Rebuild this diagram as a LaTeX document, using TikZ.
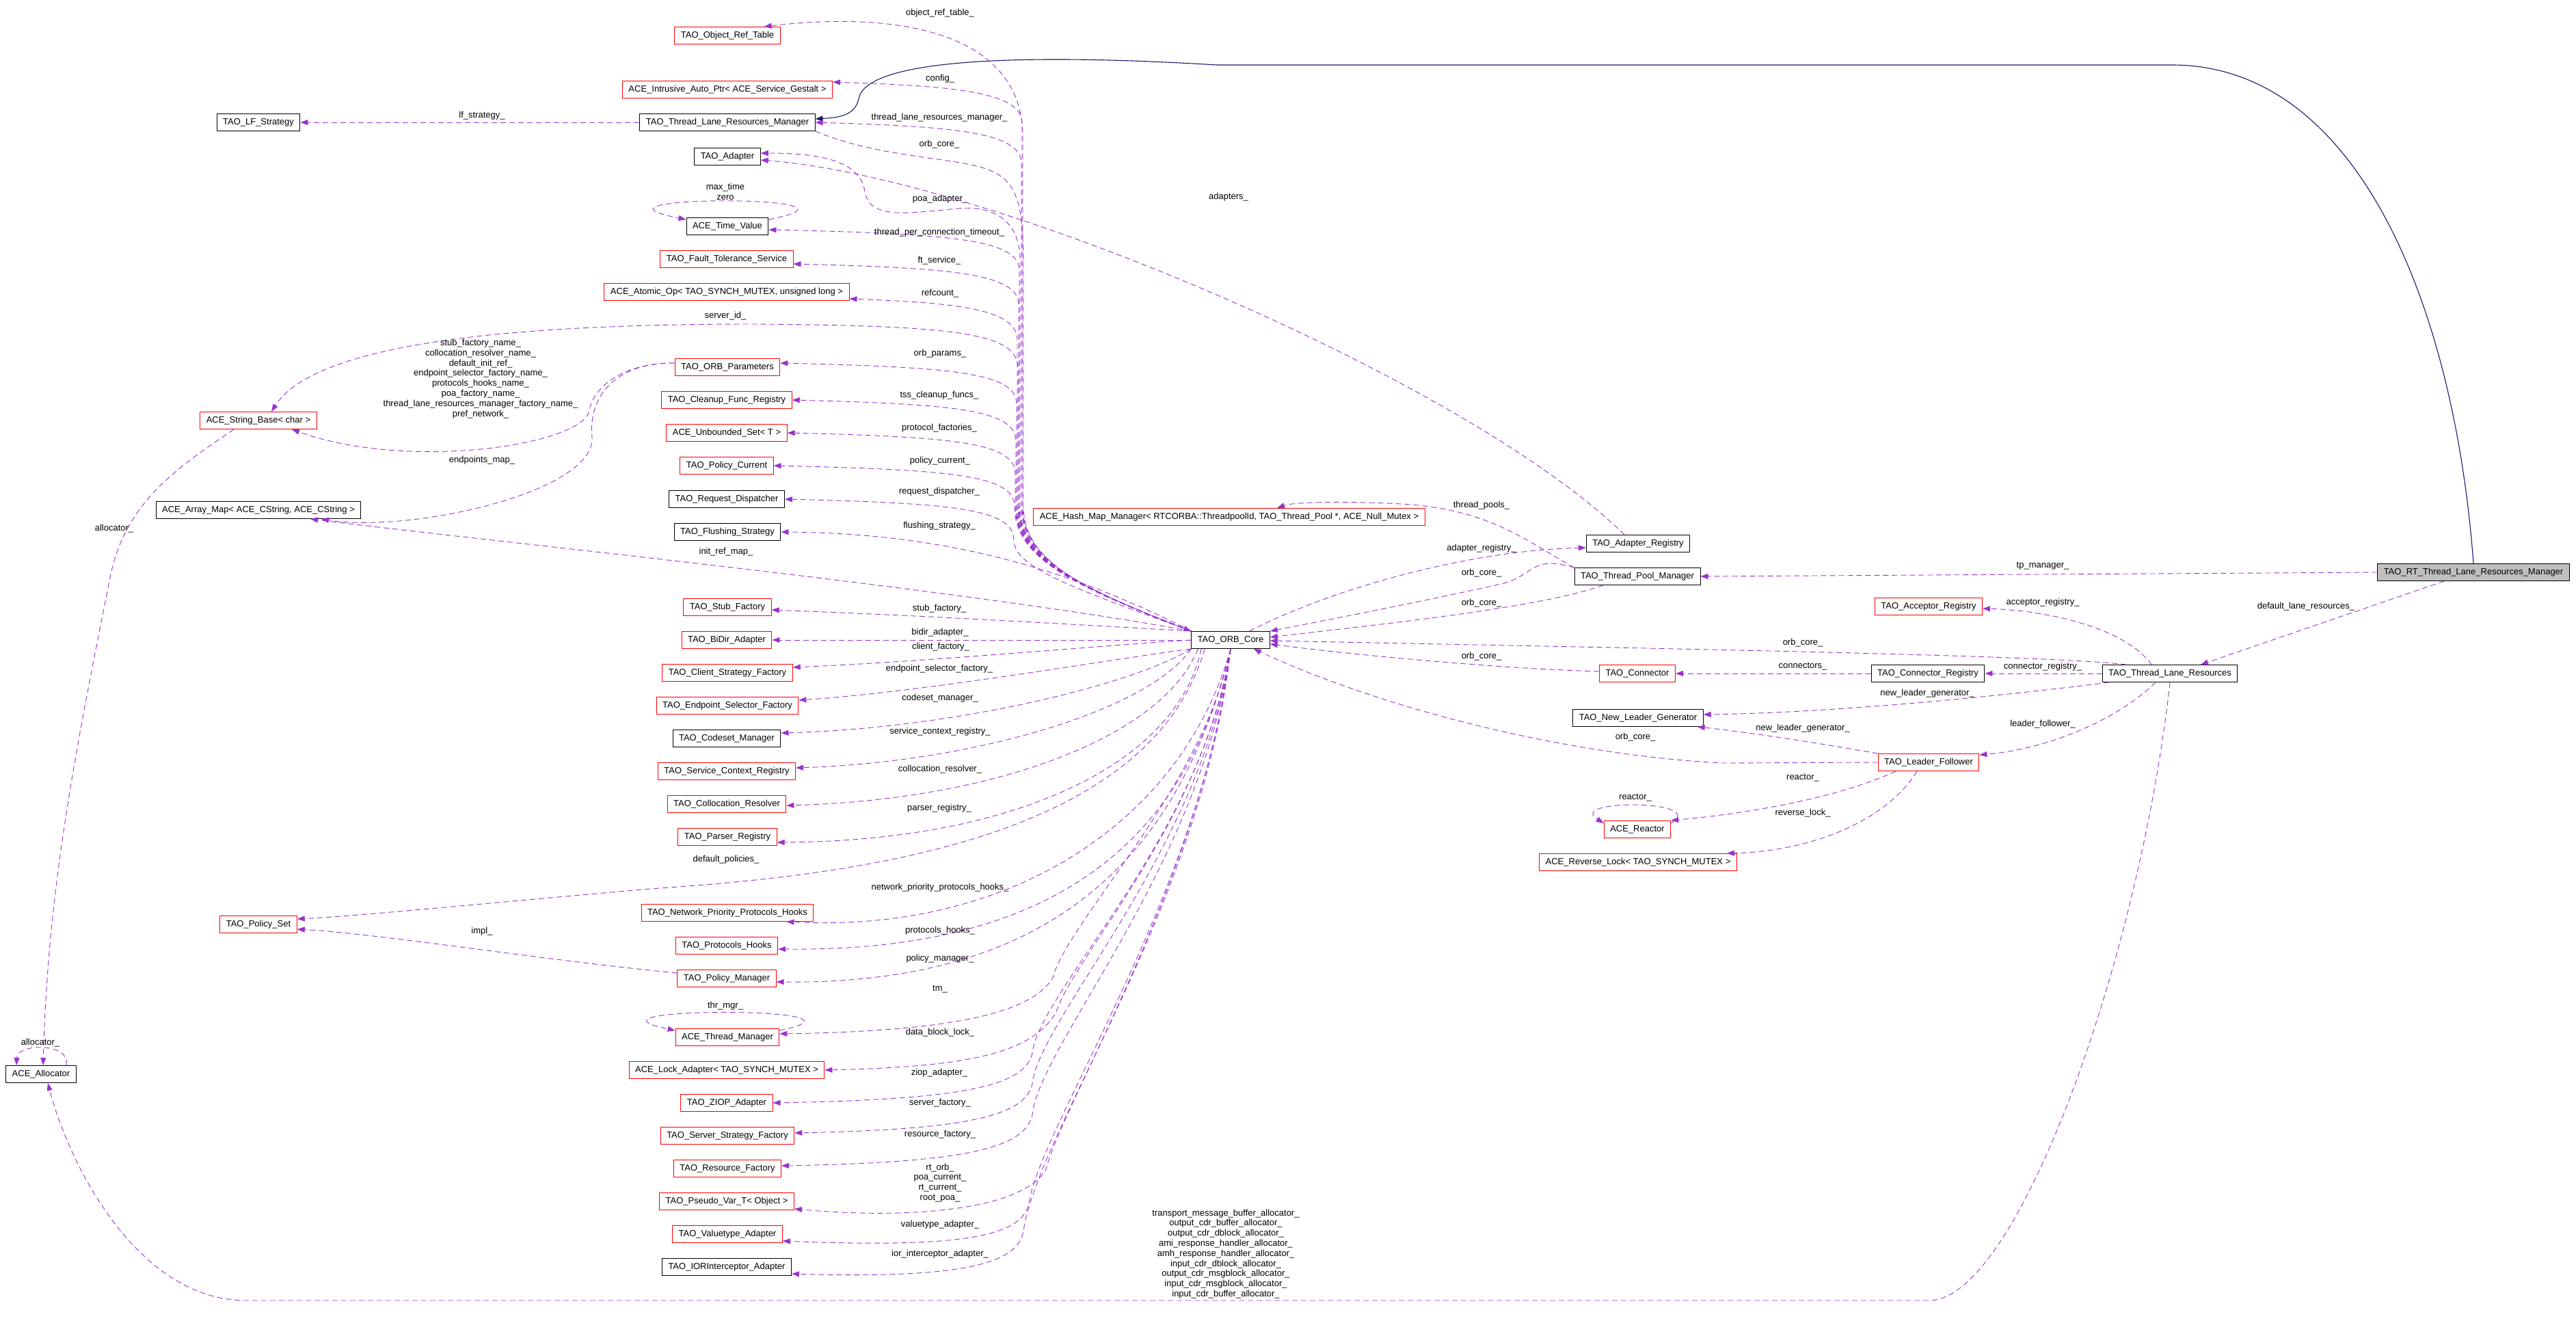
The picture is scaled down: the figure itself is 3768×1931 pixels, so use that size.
\documentclass[tikz,border=0pt]{standalone}
\usepackage{fontspec}
\setmainfont{Liberation Sans}
\usetikzlibrary{arrows.meta}
\definecolor{edgeC}{HTML}{9A32CD}
\definecolor{inhC}{HTML}{191970}
\definecolor{boxR}{HTML}{FF0000}
\definecolor{curF}{HTML}{BFBFBF}
\newcommand\dxfont{\fontsize{13}{14.8}\selectfont}
\tikzset{
  cls/.style={draw, line width=1pt, minimum height=25pt, inner xsep=9pt, inner ysep=2pt, font=\dxfont},
  redcls/.style={cls, draw=boxR},
  blkcls/.style={cls, draw=black},
  curcls/.style={cls, draw=black, fill=curF},
  dep/.style={-{Triangle[length=11pt,width=8pt]}, draw=edgeC, line width=0.9pt, dash pattern=on 8pt off 5pt},
  inh/.style={-{Triangle[length=11pt,width=8pt]}, draw=inhC, line width=1.1pt},
  lbl/.style={font=\dxfont, inner sep=0pt, align=center},
}

\begin{document}
\begin{tikzpicture}[x=1pt, y=-1pt]
\useasboundingbox (0,0) rectangle (3768,1931);
\node[blkcls] (lfs) at (378,179) {TAO\_LF\_Strategy};
\node[redcls] (strbase) at (378,615) {ACE\_String\_Base< char >};
\node[blkcls] (arraymap) at (378,746) {ACE\_Array\_Map< ACE\_CString, ACE\_CString >};
\node[redcls] (policyset) at (378,1352) {TAO\_Policy\_Set};
\node[blkcls] (allocator) at (60,1571) {ACE\_Allocator};
\node[redcls] (objref) at (1064,52) {TAO\_Object\_Ref\_Table};
\node[redcls] (gestalt) at (1064,131) {ACE\_Intrusive\_Auto\_Ptr< ACE\_Service\_Gestalt >};
\node[blkcls] (tlrm) at (1064,179) {TAO\_Thread\_Lane\_Resources\_Manager};
\node[blkcls] (adapter) at (1064,229) {TAO\_Adapter};
\node[blkcls] (timeval) at (1064,331) {ACE\_Time\_Value};
\node[redcls] (ftserv) at (1063,379) {TAO\_Fault\_Tolerance\_Service};
\node[redcls] (atomic) at (1063,427) {ACE\_Atomic\_Op< TAO\_SYNCH\_MUTEX, unsigned long >};
\node[redcls] (orbparams) at (1064,537) {TAO\_ORB\_Parameters};
\node[redcls] (cleanup) at (1063,585) {TAO\_Cleanup\_Func\_Registry};
\node[redcls] (unbset) at (1063,633) {ACE\_Unbounded\_Set< T >};
\node[redcls] (polcur) at (1063,681) {TAO\_Policy\_Current};
\node[blkcls] (reqdisp) at (1063,730) {TAO\_Request\_Dispatcher};
\node[blkcls] (flush) at (1064,778) {TAO\_Flushing\_Strategy};
\node[redcls] (stubf) at (1064,888) {TAO\_Stub\_Factory};
\node[redcls] (bidir) at (1063,936) {TAO\_BiDir\_Adapter};
\node[redcls] (clientf) at (1064,984) {TAO\_Client\_Strategy\_Factory};
\node[redcls] (epsel) at (1064,1032) {TAO\_Endpoint\_Selector\_Factory};
\node[blkcls] (codeset) at (1063,1080) {TAO\_Codeset\_Manager};
\node[redcls] (scr) at (1063,1128) {TAO\_Service\_Context\_Registry};
\node[redcls] (colloc) at (1063,1176) {TAO\_Collocation\_Resolver};
\node[redcls] (parser) at (1064,1224) {TAO\_Parser\_Registry};
\node[redcls] (nphooks) at (1064,1335) {TAO\_Network\_Priority\_Protocols\_Hooks};
\node[redcls] (phooks) at (1063,1383) {TAO\_Protocols\_Hooks};
\node[redcls] (polmgr) at (1063,1431) {TAO\_Policy\_Manager};
\node[redcls] (thrmgr) at (1064,1517) {ACE\_Thread\_Manager};
\node[redcls] (lockad) at (1063,1565) {ACE\_Lock\_Adapter< TAO\_SYNCH\_MUTEX >};
\node[redcls] (ziop) at (1063,1613) {TAO\_ZIOP\_Adapter};
\node[redcls] (serverf) at (1064,1661) {TAO\_Server\_Strategy\_Factory};
\node[redcls] (resf) at (1064,1709) {TAO\_Resource\_Factory};
\node[redcls] (pseudo) at (1063,1757) {TAO\_Pseudo\_Var\_T< Object >};
\node[redcls] (valuet) at (1064,1805) {TAO\_Valuetype\_Adapter};
\node[blkcls] (iorint) at (1063,1853) {TAO\_IORInterceptor\_Adapter};
\node[blkcls] (core) at (1800,936) {TAO\_ORB\_Core};
\node[redcls] (hashmap) at (1798,756) {ACE\_Hash\_Map\_Manager< RTCORBA::ThreadpoolId, TAO\_Thread\_Pool *, ACE\_Null\_Mutex >};
\node[blkcls] (adreg) at (2396,795) {TAO\_Adapter\_Registry};
\node[blkcls] (tpm) at (2395,843) {TAO\_Thread\_Pool\_Manager};
\node[redcls] (connector) at (2395,985) {TAO\_Connector};
\node[blkcls] (nlg) at (2396,1050) {TAO\_New\_Leader\_Generator};
\node[redcls] (reactor) at (2395,1213) {ACE\_Reactor};
\node[redcls] (revlock) at (2396,1261) {ACE\_Reverse\_Lock< TAO\_SYNCH\_MUTEX >};
\node[redcls] (accreg) at (2821,887) {TAO\_Acceptor\_Registry};
\node[blkcls] (connreg) at (2820,985) {TAO\_Connector\_Registry};
\node[redcls] (lf) at (2821,1115) {TAO\_Leader\_Follower};
\node[blkcls] (tlr) at (3174,985) {TAO\_Thread\_Lane\_Resources};
\node[curcls] (rt) at (3618,837) {TAO\_RT\_Thread\_Lane\_Resources\_Manager};

\draw[inh] (rt.north) .. controls (3590,450) and (3450,95) .. (3177,95) -- (1780,95)
  .. controls (1500,78) and (1265,85) .. (1256,145) .. controls (1250,170) and (1225,172) .. ([yshift=5pt]tlrm.east);

\draw[dep] (core.north west) .. controls (1580,860) and (1496,820) .. (1496,740) -- (1496,200)
  .. controls (1496,50) and (1320,15) .. ([xshift=-24pt]objref.north east) node[lbl] at (1375,19) {object\_ref\_table\_};
\draw[dep] (core.north west) .. controls (1580,860) and (1495,820) .. (1495,740) -- (1495,180)
  .. controls (1495,135) and (1400,126) .. ([yshift=11pt]gestalt.east) node[lbl] at (1375,115) {config\_};
\draw[dep] (core.north west) .. controls (1580,860) and (1494,820) .. (1494,740) -- (1494,239)
  .. controls (1494,194) and (1400,185) .. (tlrm.east) node[lbl] at (1374,172) {thread\_lane\_resources\_manager\_};
\draw[dep] (core.north west) .. controls (1580,860) and (1492,820) .. (1492,740) -- (1492,380)
  .. controls (1492,320) and (1450,300) .. (1400,305) .. controls (1320,313) and (1272,320) .. (1265,280)
  .. controls (1258,235) and (1200,224) .. ([yshift=5pt]adapter.east) node[lbl] at (1375,291) {poa\_adapter\_};
\draw[dep] (core.north west) .. controls (1580,860) and (1491,820) .. (1491,740) -- (1491,396)
  .. controls (1491,351) and (1400,342) .. ([yshift=-5pt]timeval.east) node[lbl] at (1374,340) {thread\_per\_connection\_timeout\_};
\draw[dep] (core.north west) .. controls (1580,860) and (1490,820) .. (1490,740) -- (1490,446)
  .. controls (1490,401) and (1400,392) .. ([yshift=-7pt]ftserv.east) node[lbl] at (1374,381) {ft\_service\_};
\draw[dep] (core.north west) .. controls (1580,860) and (1488,820) .. (1488,740) -- (1488,497)
  .. controls (1488,452) and (1400,443) .. ([yshift=-10pt]atomic.east) node[lbl] at (1375,429) {refcount\_};
\draw[dep] (core.north west) .. controls (1580,860) and (1489,820) .. (1489,740) -- (1489,540)
  .. controls (1489,490) and (1420,476) .. (1100,474) .. controls (650,474) and (450,520) .. ([xshift=19pt]strbase.north)
  node[lbl] at (1061,462) {server\_id\_};
\draw[dep] (core.north west) .. controls (1580,860) and (1487,820) .. (1487,740) -- (1487,591)
  .. controls (1487,546) and (1400,537) .. ([yshift=6pt]orbparams.east) node[lbl] at (1375,517) {orb\_params\_};
\draw[dep] (core.north west) .. controls (1580,860) and (1486,820) .. (1486,740) -- (1486,645)
  .. controls (1486,600) and (1400,591) .. (cleanup.east) node[lbl] at (1374,578) {tss\_cleanup\_funcs\_};
\draw[dep] (core.north west) .. controls (1580,860) and (1485,820) .. (1485,740) -- (1485,693)
  .. controls (1485,648) and (1400,639) .. (unbset.east) node[lbl] at (1374,626) {protocol\_factories\_};
\draw[dep] (core.north west) .. controls (1580,860) and (1484,820) .. (1484,741)
  .. controls (1484,696) and (1400,687) .. (polcur.east) node[lbl] at (1375,674) {policy\_current\_};
\draw[dep] (core.north west) .. controls (1570,860) and (1483,830) .. (1483,790)
  .. controls (1483,745) and (1400,736) .. (reqdisp.east) node[lbl] at (1374,719) {request\_dispatcher\_};
\draw[dep] (core.north west) .. controls (1560,830) and (1380,780) .. (flush.east) node[lbl] at (1374,769) {flushing\_strategy\_};
\draw[dep] (core.north west) .. controls (1400,860) and (700,790) .. ([xshift=76pt]arraymap.south) node[lbl] at (1062,807) {init\_ref\_map\_};
\draw[dep] (core.north west) .. controls (1600,915) and (1350,900) .. ([yshift=-4pt]stubf.east) node[lbl] at (1374,890) {stub\_factory\_};
\draw[dep] (core.west) -- (bidir.east) node[lbl] at (1375,925) {bidir\_adapter\_};
\draw[dep] (core.west) .. controls (1600,945) and (1350,968) .. ([yshift=8pt]clientf.east) node[lbl] at (1376,946) {client\_factory\_};
\draw[dep] (core.south west) .. controls (1620,965) and (1350,1012) .. ([yshift=8pt]epsel.east) node[lbl] at (1374,978) {endpoint\_selector\_factory\_};
\draw[dep] (core.south west) .. controls (1660,1000) and (1400,1065) .. ([yshift=8pt]codeset.east) node[lbl] at (1375,1021) {codeset\_manager\_};
\draw[dep] (core.south west) .. controls (1680,1040) and (1420,1115) .. ([yshift=5pt]scr.east) node[lbl] at (1375,1070) {service\_context\_registry\_};
\draw[dep] ([xshift=10pt]core.south west) .. controls (1700,1080) and (1450,1170) .. ([yshift=-2pt]colloc.east) node[lbl] at (1375,1125) {collocation\_resolver\_};
\draw[dep] ([xshift=15pt]core.south west) .. controls (1720,1120) and (1480,1230) .. ([yshift=-8pt]parser.east) node[lbl] at (1374,1182) {parser\_registry\_};
\draw[dep] ([xshift=20pt]core.south west) .. controls (1680,1230) and (1250,1280) .. (950,1300)
  .. controls (700,1322) and (520,1340) .. ([yshift=8pt]policyset.east) node[lbl] at (1062,1257) {default\_policies\_};
\draw[dep] (core.south) .. controls (1730,1200) and (1480,1365) .. ([xshift=-40pt]nphooks.south east) node[lbl] at (1375,1298) {network\_priority\_protocols\_hooks\_};
\draw[dep] (core.south) .. controls (1730,1250) and (1520,1392) .. ([yshift=-5pt]phooks.east) node[lbl] at (1375,1361) {protocols\_hooks\_};
\draw[dep] (core.south) .. controls (1720,1280) and (1510,1440) .. ([yshift=-5pt]polmgr.east) node[lbl] at (1375,1402) {policy\_manager\_};
\draw[dep] (core.south) .. controls (1760,1150) and (1560,1350) .. (1540,1430)
  .. controls (1510,1480) and (1400,1508) .. ([yshift=5pt]thrmgr.east) node[lbl] at (1375,1447) {tm\_};
\draw[dep] (core.south) .. controls (1760,1200) and (1570,1400) .. (1545,1480)
  .. controls (1510,1540) and (1420,1560) .. (lockad.east) node[lbl] at (1375,1510) {data\_block\_lock\_};
\draw[dep] (core.south) .. controls (1760,1220) and (1520,1450) .. (1510,1540)
  .. controls (1500,1590) and (1400,1608) .. (ziop.east) node[lbl] at (1374,1569) {ziop\_adapter\_};
\draw[dep] (core.south) .. controls (1760,1240) and (1520,1490) .. (1510,1585)
  .. controls (1500,1635) and (1400,1652) .. ([yshift=4pt]serverf.east) node[lbl] at (1375,1613) {server\_factory\_};
\draw[dep] (core.south) .. controls (1760,1260) and (1520,1530) .. (1510,1630)
  .. controls (1500,1682) and (1400,1700) .. ([yshift=4pt]resf.east) node[lbl] at (1375,1659) {resource\_factory\_};
\draw[dep] (core.south) .. controls (1760,1280) and (1560,1600) .. (1530,1710)
  .. controls (1500,1765) and (1350,1785) .. ([yshift=2pt]pseudo.south east)
  node[lbl] at (1375,1730) {rt\_orb\_\\poa\_current\_\\rt\_current\_\\root\_poa\_};
\draw[dep] (core.south) .. controls (1760,1300) and (1520,1650) .. (1505,1760)
  .. controls (1495,1810) and (1400,1825) .. ([yshift=-10pt]valuet.east) node[lbl] at (1375,1791) {valuetype\_adapter\_};
\draw[dep] (core.south) .. controls (1760,1320) and (1520,1650) .. (1497,1800)
  .. controls (1490,1850) and (1400,1870) .. ([yshift=-10pt]iorint.east) node[lbl] at (1375,1834) {ior\_interceptor\_adapter\_};

\draw[dep] (tlrm.south east) .. controls (1290,232) and (1400,230) .. (1445,248)
  .. controls (1490,265) and (1497,300) .. (1497,400) -- (1497,740) .. controls (1497,820) and (1580,860) .. (core.north west)
  node[lbl] at (1374,211) {orb\_core\_};
\draw[dep] (tlrm.west) -- (lfs.east) node[lbl] at (705,169) {lf\_strategy\_};
\draw[dep] ([xshift=-20pt]adreg.north) .. controls (2150,560) and (1450,260) .. ([yshift=-5pt]adapter.east) node[lbl] at (1797,288) {adapters\_};
\draw[dep] ([yshift=-3pt]timeval.north east) .. controls (1310,285) and (820,285) .. ([yshift=-3pt]timeval.north west)
  node[lbl] at (1061,280) {max\_time\\zero};
\draw[dep] ([yshift=-3pt]thrmgr.north east) .. controls (1310,1472) and (820,1472) .. ([yshift=-3pt]thrmgr.north west)
  node[lbl] at (1061,1471) {thr\_mgr\_};
\draw[dep] ([yshift=6pt]orbparams.west) .. controls (920,530) and (870,560) .. (862,600)
  .. controls (855,650) and (600,690) .. ([xshift=49pt]strbase.south)
  node[lbl] at (703,554) {stub\_factory\_name\_\\collocation\_resolver\_name\_\\default\_init\_ref\_\\endpoint\_selector\_factory\_name\_\\protocols\_hooks\_name\_\\poa\_factory\_name\_\\thread\_lane\_resources\_manager\_factory\_name\_\\pref\_network\_};
\draw[dep] ([yshift=6pt]orbparams.west) .. controls (900,530) and (860,580) .. (866,640)
  .. controls (870,720) and (600,780) .. ([xshift=92pt]arraymap.south) node[lbl] at (705,673) {endpoints\_map\_};
\draw[dep] ([yshift=8pt]polmgr.west) .. controls (800,1405) and (550,1365) .. ([yshift=-7pt]policyset.east) node[lbl] at (705,1362) {impl\_};
\draw[dep] ([xshift=-36pt]strbase.south) .. controls (250,690) and (180,740) .. (160,850)
  .. controls (110,1100) and (70,1300) .. ([xshift=3pt]allocator.north) node[lbl] at (167,773) {allocator\_};
\draw[dep] ([xshift=-15pt]allocator.north east) .. controls (105,1525) and (25,1525) .. ([xshift=16pt]allocator.north west)
  node[lbl] at (59,1525) {allocator\_};
\draw[dep] (tlr.south) .. controls (3130,1400) and (2950,1902) .. (2822,1902) -- (360,1902)
  .. controls (200,1902) and (100,1700) .. ([xshift=10pt]allocator.south)
  node[lbl] at (1793,1834) {transport\_message\_buffer\_allocator\_\\output\_cdr\_buffer\_allocator\_\\output\_cdr\_dblock\_allocator\_\\ami\_response\_handler\_allocator\_\\amh\_response\_handler\_allocator\_\\input\_cdr\_dblock\_allocator\_\\output\_cdr\_msgblock\_allocator\_\\input\_cdr\_msgblock\_allocator\_\\input\_cdr\_buffer\_allocator\_};

\draw[dep] (tpm.north west) .. controls (2230,790) and (2180,745) .. (2050,737)
  .. controls (1950,732) and (1890,735) .. ([xshift=70pt]hashmap.north) node[lbl] at (2167,739) {thread\_pools\_};
\draw[dep] ([xshift=-30pt]core.north east) .. controls (1950,860) and (2150,805) .. ([yshift=-6pt]adreg.west) node[lbl] at (2167,802) {adapter\_registry\_};
\draw[dep] (tpm.north west) .. controls (2240,812) and (2245,840) .. (2200,853)
  .. controls (2080,880) and (1950,905) .. (core.north east) node[lbl] at (2167,838) {orb\_core\_};
\draw[dep] ([xshift=-50pt]tpm.south) .. controls (2250,890) and (2000,915) .. ([yshift=4pt]core.east) node[lbl] at (2167,882) {orb\_core\_};
\draw[dep] (rt.west) -- (tpm.east) node[lbl] at (2988,828) {tp\_manager\_};
\draw[dep] ([xshift=-43pt]rt.south) -- ([xshift=45pt]tlr.north) node[lbl] at (3373,887) {default\_lane\_resources\_};
\draw[dep] ([xshift=-27pt]tlr.north) .. controls (3110,920) and (3000,893) .. ([yshift=-3pt]accreg.east) node[lbl] at (2988,881) {acceptor\_registry\_};
\draw[dep] ([xshift=-64pt]tlr.north) .. controls (3000,958) and (2400,948) .. ([yshift=-1pt]core.east) node[lbl] at (2637,940) {orb\_core\_};
\draw[dep] (tlr.west) -- (connreg.east) node[lbl] at (2988,975) {connector\_registry\_};
\draw[dep] (connreg.west) -- (connector.east) node[lbl] at (2637,975) {connectors\_};
\draw[dep] ([yshift=3pt]connector.west) .. controls (2200,978) and (2000,960) .. ([yshift=-6pt]core.east) node[lbl] at (2167,960) {orb\_core\_};
\draw[dep] ([xshift=-89pt]tlr.south) .. controls (2950,1015) and (2700,1042) .. ([yshift=5pt]nlg.east) node[lbl] at (2819,1014) {new\_leader\_generator\_};
\draw[dep] ([xshift=-21pt]tlr.south) .. controls (3100,1050) and (3000,1095) .. ([yshift=11pt]lf.east) node[lbl] at (2988,1059) {leader\_follower\_};
\draw[dep] (lf.north west) .. controls (2650,1085) and (2550,1070) .. ([xshift=-9pt]nlg.south east) node[lbl] at (2637,1065) {new\_leader\_generator\_};
\draw[dep] (lf.west) -- (2520,1116) .. controls (2300,1105) and (2030,1040) .. ([xshift=-24pt]core.south east) node[lbl] at (2392,1078) {orb\_core\_};
\draw[dep] ([xshift=-48pt]lf.south) .. controls (2680,1170) and (2550,1190) .. (reactor.north east) node[lbl] at (2637,1138) {reactor\_};
\draw[dep] ([yshift=-4pt]reactor.north east) .. controls (2500,1169) and (2290,1169) .. ([yshift=-4pt]reactor.north west) node[lbl] at (2392,1167) {reactor\_};
\draw[dep] ([xshift=-17pt]lf.south) .. controls (2760,1200) and (2650,1245) .. ([xshift=-15pt]revlock.north east) node[lbl] at (2637,1189) {reverse\_lock\_};
\end{tikzpicture}
\end{document}
